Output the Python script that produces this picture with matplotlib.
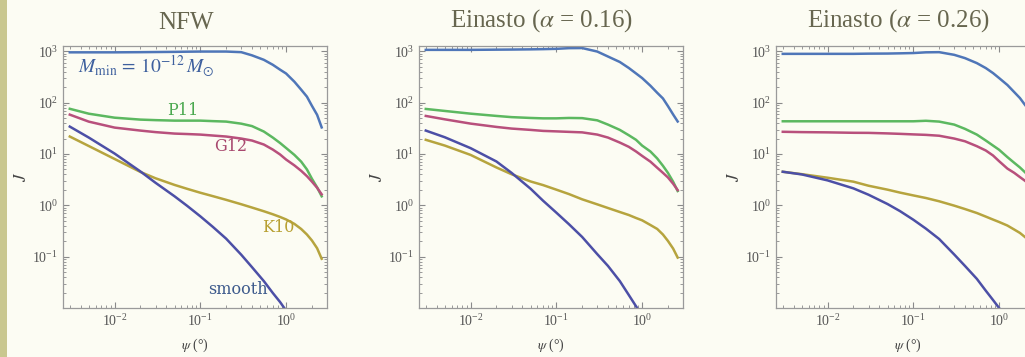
import numpy as np
import matplotlib
matplotlib.use("Agg")
import matplotlib.pyplot as plt
from matplotlib.ticker import LogLocator, NullFormatter
from matplotlib.patches import Rectangle

# opening angle psi (degrees), shared by all curves
psi = [0.003, 0.005, 0.01, 0.02, 0.03, 0.05, 0.07, 0.1, 0.14, 0.2, 0.3,
       0.4, 0.55, 0.7, 0.85, 1.0, 1.25, 1.5, 1.75, 2.0, 2.3, 2.6]

# NFW
nfw_mmin = [957, 957, 957, 964, 970, 977, 985, 991, 991, 991, 964,
            836, 684, 547, 440, 370, 256, 179, 131, 87, 58, 33]
nfw_p11 = [76, 61, 51, 46.8, 45.7, 44.7, 44.7, 44.7, 43.7, 42.8, 39,
           35, 27.4, 20.9, 16.4, 13.1, 9.6, 7.1, 5.0, 3.3, 2.24, 1.5]
nfw_g12 = [58.5, 42.7, 32.7, 28.6, 26.7, 25.0, 24.5, 23.9, 22.9, 21.9, 20,
           18.3, 15.3, 12.2, 9.8, 7.8, 6.0, 4.7, 3.7, 2.9, 2.2, 1.64]
nfw_k10 = [21.9, 14.3, 8.0, 4.47, 3.37, 2.50, 2.10, 1.76, 1.51, 1.28, 1.05,
           0.906, 0.767, 0.670, 0.594, 0.531, 0.435, 0.346, 0.270, 0.207, 0.146, 0.091]
nfw_smooth = [34.2, 20.9, 10.2, 4.57, 2.75, 1.50, 0.98, 0.61, 0.38, 0.224, 0.109,
              0.0625, 0.0334, 0.0196, 0.0131, 0.0089, 0.0053, 0.0034, 0.0024, 0.0018, 0.0013, 0.0009]

# Einasto alpha = 0.16
ein16_mmin = [1069, 1069, 1069, 1079, 1084, 1094, 1104, 1119, 1154, 1159, 991,
              793, 620, 474, 371, 302, 214, 156, 121, 86, 59, 43]
ein16_p11 = [75.5, 69, 61.1, 55.2, 52.3, 50.4, 49.5, 49.5, 50.4, 50, 45.3,
             37.4, 29.5, 23.2, 18.9, 14.6, 11.2, 8.2, 5.9, 4.3, 2.89, 1.90]
ein16_g12 = [55.2, 47.4, 39.1, 33.7, 31.3, 29.5, 28.2, 27.6, 27, 26.4, 23.9,
             20.9, 16.7, 13.8, 11.2, 9.2, 7.1, 5.4, 4.3, 3.5, 2.64, 1.98]
ein16_k10 = [18.9, 14.6, 9.6, 5.47, 4.04, 2.92, 2.48, 2.02, 1.66, 1.31, 1.045,
             0.887, 0.741, 0.648, 0.567, 0.511, 0.414, 0.347, 0.270, 0.203, 0.144, 0.096]
ein16_smooth = [28.6, 21.2, 13.0, 7.15, 4.3, 2.11, 1.23, 0.72, 0.43, 0.242, 0.112,
                0.066, 0.0334, 0.0179, 0.0108, 0.0071, 0.0040, 0.0025, 0.0017, 0.0012, 0.0008, 0.0006]

# Einasto alpha = 0.26
ein26_mmin = [894, 894, 894, 894, 902, 906, 915, 927, 957, 964, 855,
              738, 590, 472, 377, 302, 221, 161, 123, 91, 68, 53]
ein26_p11 = [43.4, 43.4, 43.4, 43.4, 43.4, 43.4, 43.4, 43.4, 44.4, 42.8, 37.4,
             30.9, 23.9, 18.3, 14.6, 12.1, 8.7, 6.75, 5.47, 4.43, 3.5, 2.83]
ein26_g12 = [27.1, 26.7, 26.4, 25.9, 25.8, 25.2, 24.7, 24.1, 23.6, 22.7, 20.0,
             17.7, 14.2, 11.7, 9.35, 7.25, 5.2, 4.3, 3.55, 3.02, 2.48, 2.11]
ein26_k10 = [4.51, 4.05, 3.45, 2.89, 2.41, 2.02, 1.77, 1.56, 1.39, 1.20, 0.986,
             0.847, 0.709, 0.603, 0.528, 0.474, 0.404, 0.338, 0.290, 0.242, 0.200, 0.169]
ein26_smooth = [4.51, 4.0, 3.06, 2.14, 1.61, 1.06, 0.77, 0.524, 0.352, 0.221, 0.110,
                0.066, 0.037, 0.0217, 0.0143, 0.010, 0.0061, 0.0041, 0.0030, 0.0023, 0.00165, 0.00128]

titles = ["NFW", r"Einasto ($\alpha$ = 0.16)", r"Einasto ($\alpha$ = 0.26)"]

c_mmin = "#4f76b8"
c_p11 = "#5cb860"
c_g12 = "#b8507c"
c_k10 = "#b6a43e"
c_smooth = "#4c4fa6"
bg = "#fcfcf3"

plt.rcParams["font.family"] = ["Liberation Serif", "DejaVu Serif"]
plt.rcParams["mathtext.fontset"] = "stix"


def style_axes(ax):
    ax.set_xscale("log")
    ax.set_yscale("log")
    ax.set_xlim(0.0025, 3.0)
    ax.set_ylim(0.01, 1300)
    ax.set_facecolor(bg)
    ax.set_xticks([0.01, 0.1, 1.0])
    ax.set_yticks([0.1, 1, 10, 100, 1000])
    ax.xaxis.set_minor_locator(LogLocator(base=10, subs=np.arange(2, 10), numticks=20))
    ax.yaxis.set_minor_locator(LogLocator(base=10, subs=np.arange(2, 10), numticks=20))
    ax.xaxis.set_minor_formatter(NullFormatter())
    ax.yaxis.set_minor_formatter(NullFormatter())
    ax.tick_params(which="both", direction="in", top=True, right=True,
                   color="#8a8a8a", labelcolor="#555555", labelsize=10)
    ax.tick_params(which="major", length=4, width=0.8)
    ax.tick_params(which="minor", length=2, width=0.6)
    for s in ax.spines.values():
        s.set_color("#9a9a9a")
        s.set_linewidth(0.9)
    ax.set_ylabel(r"$J$", color="#444444", fontsize=12, labelpad=2)
    ax.set_xlabel(r"$\psi$ (°)", color="#444444", fontsize=10, labelpad=6)


def main():
    fig = plt.figure(figsize=(10.25, 3.57), dpi=100)
    fig.patch.set_facecolor(bg)
    fig.patches.append(Rectangle((0, 0), 7 / 1025, 1, transform=fig.transFigure,
                                 facecolor="#c9c78f", edgecolor="none"))

    lefts = [63 / 1025, 419 / 1025, 776 / 1025]
    data = [
        (nfw_mmin, nfw_p11, nfw_g12, nfw_k10, nfw_smooth),
        (ein16_mmin, ein16_p11, ein16_g12, ein16_k10, ein16_smooth),
        (ein26_mmin, ein26_p11, ein26_g12, ein26_k10, ein26_smooth),
    ]
    axes = []
    for i in range(3):
        ax = fig.add_axes([lefts[i], 1 - 308 / 357, 264 / 1025, 262.5 / 357])
        style_axes(ax)
        mmin, p11, g12, k10, smooth = data[i]
        ax.plot(psi, mmin, color=c_mmin, lw=1.8)
        ax.plot(psi, p11, color=c_p11, lw=1.8)
        ax.plot(psi, g12, color=c_g12, lw=1.8)
        ax.plot(psi, k10, color=c_k10, lw=1.8)
        ax.plot(psi, smooth, color=c_smooth, lw=1.8)
        ax.text(0.465, 1.045, titles[i], transform=ax.transAxes, ha="center", va="bottom",
                fontsize=18, color="#67664f")
        axes.append(ax)

    ax = axes[0]
    ax.text(0.0037, 500, r"$M_{\rm min}\,=\,10^{-12}\,M_{\odot}$", color="#3e609e",
            fontsize=14, ha="left", va="center")
    ax.text(0.062, 72, "P11", color="#4aa84e", fontsize=11.5, ha="center", va="center",
            family="DejaVu Serif")
    ax.text(0.223, 14, "G12", color="#a8486e", fontsize=11.5, ha="center", va="center",
            family="DejaVu Serif")
    ax.text(0.81, 0.37, "K10", color="#b8a032", fontsize=11.5, ha="center", va="center",
            family="DejaVu Serif")
    ax.text(0.277, 0.023, "smooth", color="#3d5a8c", fontsize=11.5, ha="center", va="center",
            family="DejaVu Serif")

    fig.savefig("out.png", dpi=100, facecolor=bg)


if __name__ == "__main__":
    main()
